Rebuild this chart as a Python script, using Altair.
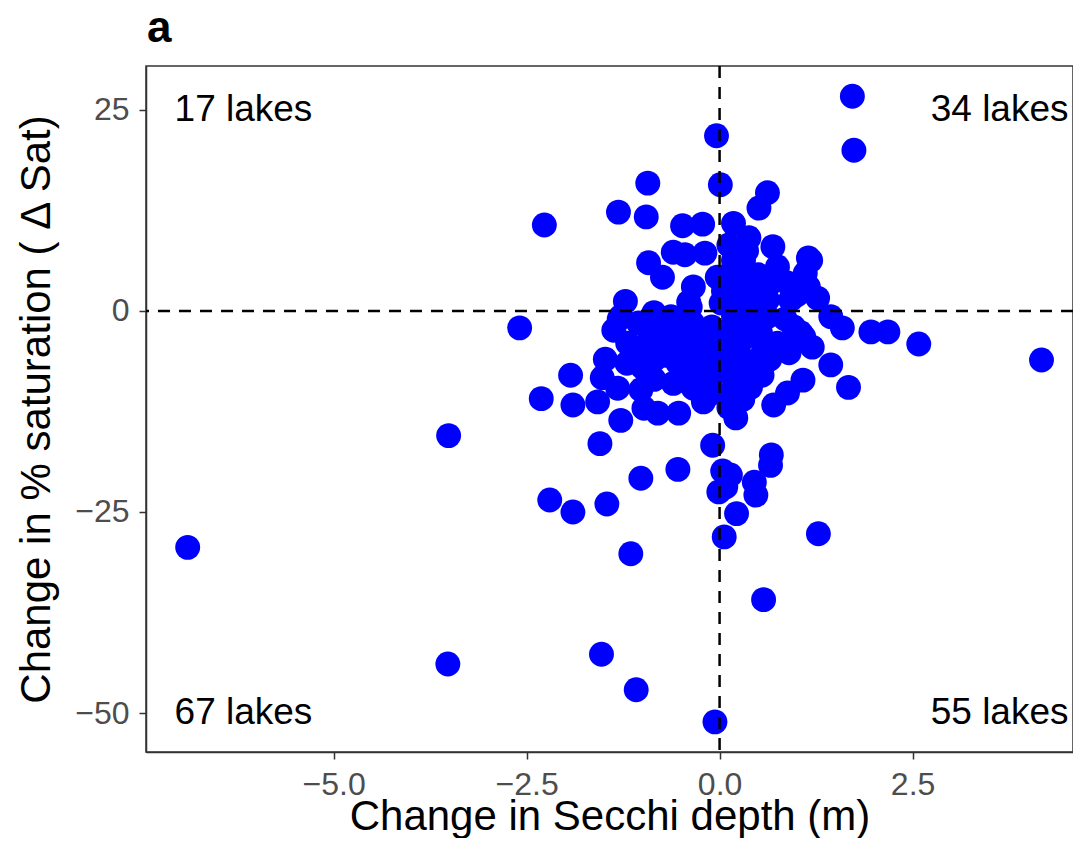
import altair as alt
import pandas as pd

# change in Secchi depth (m) per lake
secchi_change = [
    # upper-left quadrant
    -0.04, -0.93, -1.31, -0.95, -2.27, -0.48, -0.22, -0.60, -0.45, -0.19,
    -0.92, -0.74, -0.34, -0.40, -0.03, -1.22, -0.38,
    # upper-right quadrant
    1.72, 1.74, 0.01, 0.62, 0.51, 0.18, 0.38, 0.69, 1.15, 0.75,
    1.11, 1.15, 1.27, 0.18, 0.31, 0.27, 0.18, 0.44, 0.62, 0.88,
    0.92, 0.27, 0.79, 0.62, 0.36, 0.10, 1.18, 0.02, 0.12, 0.05,
    0.50, 0.35, 1.00, 0.15,
    # lower-left quadrant
    -2.59, -6.89, -3.51, -3.52, -1.53, -1.08, -0.06, -1.55, -2.31, -1.90,
    -1.93, -1.58, -1.52, -1.48, -1.32, -1.28, -1.02, -0.98, -0.80, -0.53,
    -0.21, -0.34, -0.09, -0.54, -1.02, -1.46, -1.90, -2.20, -1.15, -0.01,
    -1.37, -1.19, -0.85, -0.63, -1.30, -1.05, -0.85, -0.54, -0.25, -0.76,
    -0.38, -0.47, -0.67, -0.16, -0.12, -0.28, -0.95, -1.28, -0.61, -0.12,
    -0.38, -1.05, -0.90, -0.70, -0.55, -0.45, -0.30, -0.20, -0.10, -0.05,
    -0.60, -0.85, -1.20, -0.35, -0.15, -0.75, -1.00,
    # lower-right quadrant
    4.17, 2.58, 2.18, 1.96, 1.59, 1.44, 1.67, 1.44, 1.08, 0.88,
    0.70, 0.21, 0.67, 0.66, 0.45, 0.47, 0.14, 0.04, 0.08, 0.22,
    0.06, 1.28, 0.57, 0.96, 1.05, 1.09, 0.95, 0.53, 0.57, 0.44,
    0.10, 0.27, 0.18, 0.53, 0.01, 0.18, 0.18, 0.18, 0.44, 0.62,
    0.10, 0.27, 0.30, 0.75, 0.85, 0.40, 0.55, 0.05, 0.30, 1.20,
    0.65, 0.08, 0.35, 0.90, 0.12,
]

# change in % saturation per lake
sat_change = [
    21.8, 15.9, 12.3, 11.7, 10.7, 10.6, 10.8, 7.3, 7.0, 7.2,
    6.0, 4.2, 3.0, 1.1, 4.2, 1.2, 0.5,
    26.7, 20.0, 15.7, 14.7, 12.8, 10.9, 9.1, 8.0, 6.6, 5.5,
    4.7, 3.0, 1.6, 6.3, 6.3, 5.3, 2.2, 2.2, 3.0, 3.5,
    1.4, 3.5, 3.9, 1.4, 0.5, 1.0, 6.3, 1.0, 8.2, 2.5,
    4.5, 7.5, 2.0, 4.8,
    -2.1, -29.4, -15.5, -43.9, -42.7, -47.1, -51.1, -16.5, -10.9, -11.7,
    -8.0, -11.3, -8.3, -6.0, -9.6, -13.6, -9.8, -12.1, -12.7, -12.7,
    -11.3, -9.6, -16.7, -19.7, -20.8, -24.0, -25.0, -23.5, -30.2, -22.5,
    -2.4, -4.0, -0.2, -0.7, -1.0, -5.0, -6.1, -6.5, -5.2, -4.9,
    -4.9, -2.7, -3.2, -2.4, -9.0, -8.2, -7.5, -0.7, -1.1, -4.9,
    -4.0, -1.5, -3.0, -5.5, -4.0, -7.5, -3.0, -6.8, -2.0, -7.5,
    -9.0, -8.5, -6.5, -1.5, -10.5, -2.0, -7.0,
    -6.1, -4.1, -2.6, -2.6, -2.1, -0.7, -9.5, -6.7, -8.6, -10.2,
    -11.7, -13.3, -17.9, -19.2, -21.3, -22.9, -20.4, -19.9, -21.9, -25.2,
    -28.1, -27.7, -35.9, -2.0, -2.7, -3.2, -3.6, -5.7, -4.0, -7.0,
    -7.0, -5.7, -2.7, -2.7, -7.3, -9.8, -8.2, -0.7, -1.5, -0.7,
    -4.0, -6.1, -3.5, -4.0, -1.0, -9.5, -8.0, -5.0, -11.0, -4.5,
    -6.0, -10.5, -0.8, -5.2, -12.0,
]

# quadrant counts
left_labels = ["17 lakes", "67 lakes"]
right_labels = ["34 lakes", "55 lakes"]
label_y = [25, -50]

df = pd.DataFrame({"secchi": secchi_change, "sat": sat_change})
left_df = pd.DataFrame({"label": left_labels, "x": [-7.06, -7.06], "y": label_y})
right_df = pd.DataFrame({"label": right_labels, "x": [4.52, 4.52], "y": label_y})

FONT = "Liberation Sans"
x_scale = alt.Scale(domain=[-7.43, 4.578], nice=False, zero=False)
y_scale = alt.Scale(domain=[-54.85, 30.47], nice=False, zero=False)

points = alt.Chart(df).mark_circle(
    color="#0000FF", opacity=1, size=620
).encode(
    x=alt.X(
        "secchi:Q",
        scale=x_scale,
        title="Change in Secchi depth (m)",
        axis=alt.Axis(values=[-5, -2.5, 0, 2.5], format=".1f", grid=False,
                      titleY=77, titleBaseline="alphabetic"),
    ),
    y=alt.Y(
        "sat:Q",
        scale=y_scale,
        title="Change in % saturation ( \u0394 Sat)",
        axis=alt.Axis(values=[-50, -25, 0, 25], format="d", grid=False,
                      titleX=-97, titleBaseline="alphabetic"),
    ),
)

vline = alt.Chart(pd.DataFrame({"x": [0]})).mark_rule(
    color="black", strokeDash=[12, 9], strokeWidth=2.5
).encode(x=alt.X("x:Q", scale=x_scale))

hline = alt.Chart(pd.DataFrame({"y": [0]})).mark_rule(
    color="black", strokeDash=[12, 9], strokeWidth=2.5
).encode(y=alt.Y("y:Q", scale=y_scale))

left_text = alt.Chart(left_df).mark_text(
    align="left", baseline="middle", fontSize=37, font=FONT, color="black"
).encode(x=alt.X("x:Q", scale=x_scale), y=alt.Y("y:Q", scale=y_scale), text="label:N")

right_text = alt.Chart(right_df).mark_text(
    align="right", baseline="middle", fontSize=37, font=FONT, color="black"
).encode(x=alt.X("x:Q", scale=x_scale), y=alt.Y("y:Q", scale=y_scale), text="label:N")

# panel tag
tag = alt.Chart(pd.DataFrame({"tag": ["a"]})).mark_text(
    align="left", baseline="alphabetic", fontSize=44, fontWeight="bold",
    font=FONT, color="black"
).encode(x=alt.value(1), y=alt.value(-24), text="tag:N")

chart = alt.layer(points, vline, hline, left_text, right_text, tag).properties(
    width=927,
    height=686,
    autosize=alt.AutoSizeParams(type="none"),
    padding={"left": 138, "top": 58, "right": 0, "bottom": 86},
).configure_view(
    stroke="#333333", strokeWidth=1.5
).configure_axis(
    domainColor="#333333", domainWidth=1.5,
    tickColor="#333333", tickWidth=1.5, tickSize=7,
    labelFont=FONT, labelFontSize=32, labelColor="#4D4D4D", labelPadding=10,
    titleFont=FONT, titleFontSize=42, titleFontWeight="normal", titleColor="black",
)

chart.save("out.html", embed_options={"renderer": "svg", "actions": False})
